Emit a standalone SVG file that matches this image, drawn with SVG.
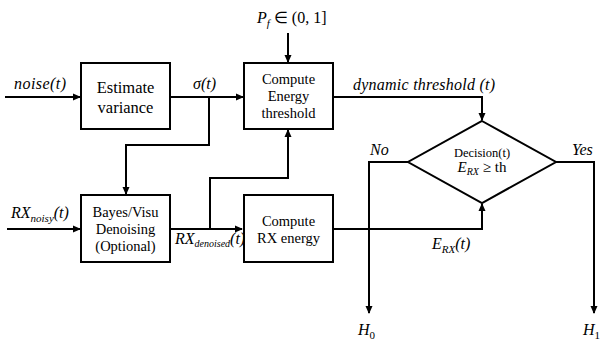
<svg xmlns="http://www.w3.org/2000/svg" width="600" height="340" viewBox="0 0 600 340" font-family="Liberation Serif">
<style>
.box{fill:#fff;stroke:#000;stroke-width:2}
.ln{fill:none;stroke:#000;stroke-width:2}
.t{font-family:'Liberation Serif','Times New Roman',serif;fill:#000;text-anchor:middle}
.m{font-family:'Liberation Serif','Times New Roman',serif;font-style:italic;fill:#000;font-size:16px}
</style>
<defs>
<marker id="ar" markerWidth="8" markerHeight="8" refX="7" refY="4" orient="auto" markerUnits="userSpaceOnUse">
<path d="M0,0.5 L8,4 L0,7.5 Z" fill="#000"/>
</marker>
</defs>
<g id="connectors">
<path class="ln" d="M5,97 H80" marker-end="url(#ar)"/>
<path class="ln" d="M170,97 H243" marker-end="url(#ar)"/>
<path class="ln" d="M209,97 V145 H126 V194" marker-end="url(#ar)"/>
<path class="ln" d="M288,33 V62" marker-end="url(#ar)"/>
<path class="ln" d="M7,229 H80" marker-end="url(#ar)"/>
<path class="ln" d="M170,229 H242" marker-end="url(#ar)"/>
<path class="ln" d="M210,229 V178 H288 V130" marker-end="url(#ar)"/>
<path class="ln" d="M333,97 H482 V120" marker-end="url(#ar)"/>
<path class="ln" d="M333,229 H482 V204" marker-end="url(#ar)"/>
<path class="ln" d="M408,162 H369 V313" marker-end="url(#ar)"/>
<path class="ln" d="M556,162 H594 V313" marker-end="url(#ar)"/>
</g>
<g id="estimate">
<rect class="box" x="81" y="63" width="89" height="66"/>
<text class="t" x="125.5" y="93" font-size="16.5">Estimate</text>
<text class="t" x="125.5" y="113" font-size="16.5">variance</text>
</g>
<g id="threshold">
<rect class="box" x="244" y="63" width="89" height="66"/>
<text class="t" x="288.5" y="84" font-size="14.5">Compute</text>
<text class="t" x="288.5" y="101" font-size="14.5">Energy</text>
<text class="t" x="288.5" y="118" font-size="14.5">threshold</text>
</g>
<g id="denoise">
<rect class="box" x="81" y="195" width="89" height="67"/>
<text class="t" x="125.5" y="217" font-size="14.5">Bayes/Visu</text>
<text class="t" x="125.5" y="234" font-size="14.5">Denoising</text>
<text class="t" x="125.5" y="251" font-size="14.5">(Optional)</text>
</g>
<g id="energy">
<rect class="box" x="244" y="195" width="89" height="67"/>
<text class="t" x="288.5" y="226" font-size="14.5">Compute</text>
<text class="t" x="288.5" y="243" font-size="14.5">RX energy</text>
</g>
<g id="decision">
<polygon class="box" points="482,121 556,162 482,203 408,162"/>
<text class="t" x="482" y="157" font-size="12.5">Decision(t)</text>
<text class="t" x="482" y="172" font-size="15"><tspan font-style="italic">E</tspan><tspan font-style="italic" font-size="10" dy="3">RX</tspan><tspan dy="-3"> ≥ th</tspan></text>
</g>
<g id="labels">
<text class="m" x="14" y="89" textLength="52">noise(t)</text>
<text class="m" x="193" y="89">σ(t)</text>
<text class="m" x="257" y="23">P<tspan font-size="11" dy="4">f</tspan><tspan font-style="normal" dy="-4"> ∈ (0, 1]</tspan></text>
<text class="m" x="353" y="90" textLength="142">dynamic threshold (t)</text>
<text class="m" x="11" y="218">RX<tspan font-size="11" dy="4">noisy</tspan><tspan dy="-4">(t)</tspan></text>
<text class="m" x="175" y="244" font-size="14">RX<tspan font-size="10" dy="3">denoised</tspan><tspan dy="-3">(t)</tspan></text>
<text class="m" x="432" y="249">E<tspan font-size="11" dy="4">RX</tspan><tspan dy="-4">(t)</tspan></text>
<text class="m" x="370" y="155">No</text>
<text class="m" x="572" y="155">Yes</text>
<text class="m" x="358" y="335">H<tspan font-size="11" font-style="normal" dy="4">0</tspan></text>
<text class="m" x="583" y="335">H<tspan font-size="11" font-style="normal" dy="4">1</tspan></text>
</g>
</svg>
